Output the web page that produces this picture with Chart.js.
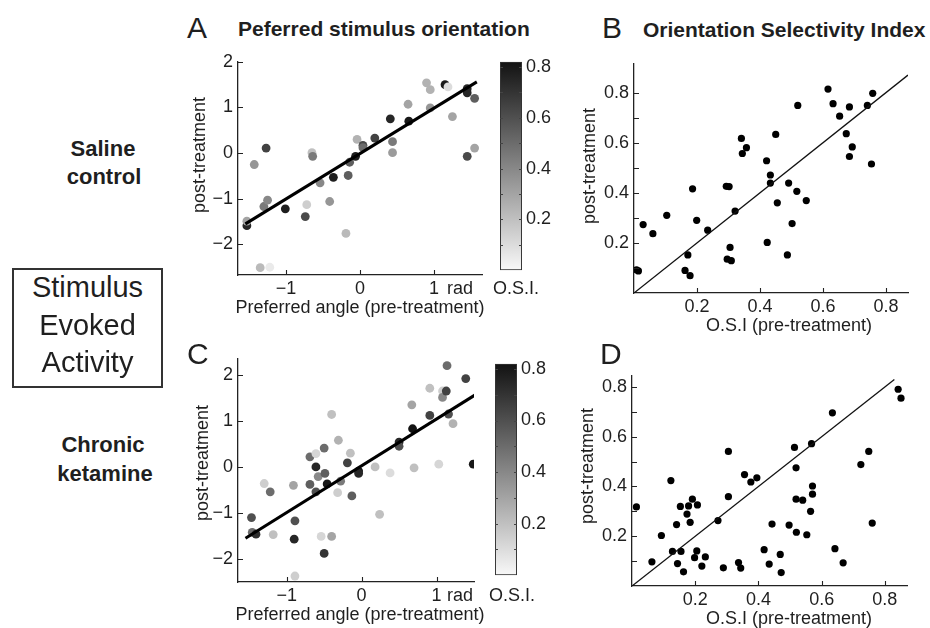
<!DOCTYPE html>
<html><head><meta charset="utf-8">
<script src="https://cdn.jsdelivr.net/npm/chart.js@4"></script>
<style>
body{margin:0;background:#fff;}
#fig{position:relative;width:930px;height:628px;overflow:hidden;font-family:"Liberation Sans",Arial,sans-serif;color:#1f1f1f;background:#fff;}
.t{position:absolute;white-space:nowrap;line-height:1;}
canvas{position:absolute;}
#box{position:absolute;left:12px;top:268px;width:151px;height:120px;border:2px solid #333;box-sizing:border-box;}
</style></head><body><div id="fig"><div id="box"></div></div>
<script>
// ---------- data ----------
// Panel A: saline, preferred angle (rad) pre vs post, colour = OSI
const aPre  = [-1.53,-1.53,-1.43,-1.27,-1.30,-1.25,-1.35,-1.22,-1.01,-0.74,-0.72,-0.65,-0.64,-0.54,-0.41,-0.36,-0.19,-0.16,-0.14,-0.06,-0.04,0.04,0.04,0.20,0.41,0.44,0.44,0.65,0.66,0.90,0.95,0.95,1.15,1.19,1.25,1.45,1.45,1.55,1.45,1.55];
const aPost = [-1.59,-1.49,-0.25,0.11,-1.17,-1.03,-2.51,-2.50,-1.22,-1.39,-1.13,0.01,-0.07,-0.65,-1.06,-0.53,-1.76,-0.49,-0.20,-0.07,0.30,0.17,0.12,0.33,0.75,0.25,0.01,1.07,0.70,1.54,1.39,0.99,1.50,1.45,0.80,1.41,1.32,1.20,-0.07,0.11];
const aOSI  = [0.75,0.30,0.35,0.65,0.45,0.40,0.22,0.05,0.78,0.62,0.15,0.20,0.45,0.40,0.35,0.78,0.22,0.55,0.55,0.78,0.25,0.62,0.50,0.65,0.75,0.45,0.33,0.30,0.80,0.25,0.25,0.35,0.80,0.10,0.30,0.75,0.75,0.55,0.62,0.30];
const aFitX = [-1.55, 1.58];
const aFitY = [-1.55, 1.56];
// Panel C: chronic ketamine
const cPre  = [-1.47,-1.46,-1.41,-1.30,-1.22,-1.18,-0.91,-0.89,-0.90,-0.89,-0.69,-0.69,-0.61,-0.61,-0.61,-0.58,-0.54,-0.50,-0.49,-0.50,-0.46,-0.40,-0.40,-0.32,-0.31,-0.28,-0.19,-0.15,-0.13,-0.04,-0.04,0.18,0.24,0.38,0.50,0.50,0.67,0.68,0.70,0.91,0.91,1.03,1.08,1.08,1.13,1.16,1.22,1.39,1.49,1.14];
const cPost = [-1.10,-1.42,-1.46,-0.36,-0.54,-1.47,-0.40,-1.17,-1.57,-2.37,0.22,-0.38,0.29,0.00,-0.54,-0.21,-1.51,0.41,-0.14,-1.88,-0.37,1.14,-1.51,-0.56,0.58,-0.31,0.09,0.30,-0.63,-0.09,-0.14,0.00,-1.03,-0.13,0.54,0.45,1.35,0.83,-0.02,1.71,1.12,0.06,1.65,1.51,1.65,1.15,0.94,1.92,0.06,2.20];
const cOSI  = [0.60,0.50,0.72,0.15,0.50,0.20,0.30,0.60,0.75,0.15,0.50,0.55,0.12,0.75,0.60,0.40,0.12,0.50,0.55,0.70,0.80,0.20,0.30,0.15,0.25,0.45,0.65,0.20,0.55,0.80,0.75,0.20,0.20,0.10,0.75,0.60,0.30,0.85,0.20,0.20,0.65,0.12,0.15,0.40,0.65,0.60,0.25,0.65,0.80,0.50];
const cFitX = [-1.55, 1.53];
const cFitY = [-1.55, 1.58];
// Panel B: saline OSI pre vs post
const bPre  = [0.008,0.014,0.029,0.060,0.104,0.162,0.171,0.178,0.186,0.199,0.234,0.293,0.302,0.296,0.309,0.305,0.321,0.341,0.344,0.357,0.421,0.423,0.433,0.433,0.450,0.455,0.487,0.491,0.502,0.517,0.520,0.547,0.616,0.632,0.653,0.674,0.684,0.684,0.693,0.741,0.758,0.754];
const bPost = [0.092,0.088,0.273,0.237,0.310,0.090,0.152,0.069,0.416,0.290,0.251,0.426,0.425,0.135,0.129,0.182,0.327,0.617,0.557,0.580,0.528,0.202,0.471,0.439,0.633,0.360,0.152,0.439,0.277,0.406,0.749,0.369,0.814,0.756,0.706,0.636,0.743,0.545,0.583,0.749,0.797,0.515];
const bDiag = [0, 0.87];
// Panel D: ketamine OSI pre vs post
const dPre  = [0.014,0.063,0.093,0.123,0.128,0.141,0.144,0.153,0.155,0.163,0.174,0.179,0.184,0.191,0.198,0.205,0.207,0.221,0.232,0.272,0.289,0.305,0.305,0.337,0.344,0.356,0.376,0.395,0.418,0.434,0.443,0.469,0.472,0.497,0.514,0.519,0.519,0.520,0.540,0.553,0.565,0.568,0.571,0.571,0.634,0.642,0.668,0.724,0.749,0.760,0.842,0.851];
const dPost = [0.318,0.097,0.203,0.424,0.139,0.247,0.090,0.320,0.139,0.057,0.289,0.322,0.256,0.349,0.114,0.141,0.326,0.080,0.117,0.263,0.073,0.541,0.359,0.094,0.072,0.448,0.418,0.435,0.146,0.088,0.249,0.127,0.054,0.245,0.557,0.475,0.349,0.216,0.345,0.206,0.300,0.572,0.402,0.369,0.696,0.150,0.093,0.488,0.541,0.253,0.791,0.755];
const dDiag = [0, 0.83];
// ticks
const angTicks = [-1, 0, 1];
const angTickLabels = ['\u22121', '0', '1'];
const angYTicks = [-2, -1, 0, 1, 2];
const angYTickLabels = ['\u22122', '\u22121', '0', '1', '2'];
const osiXTicks = [0.2, 0.4, 0.6, 0.8];
const osiXTickLabels = ['0.2', '0.4', '0.6', '0.8'];
const osiYTicks = [0.1, 0.2, 0.3, 0.4, 0.5, 0.6, 0.7, 0.8];
const osiYTickLabels = ['', '0.2', '', '0.4', '', '0.6', '', '0.8'];
const cbTicks = [0.2, 0.4, 0.6, 0.8];
const cbTickLabels = ['0.2', '0.4', '0.6', '0.8'];
const cbMinor = [0.1, 0.2, 0.3, 0.4, 0.5, 0.6, 0.7, 0.8];
const OSI_MAX = 0.82;

// ---------- helpers ----------
const fig = document.getElementById('fig');
const FONT = "'Liberation Sans', Arial, sans-serif";
const TXT = '#1f1f1f';
function gray(v){ const f = Math.max(0, Math.min(1, v / OSI_MAX)); const g = Math.round(248 - 230 * f); return 'rgb(' + g + ',' + g + ',' + g + ')'; }
function txt(s, x, base, size, o){ o = o || {}; const d = document.createElement('div'); d.className = 't'; d.textContent = s;
  d.style.fontSize = size + 'px'; if (o.bold) d.style.fontWeight = 'bold';
  d.style.left = x + 'px'; d.style.top = (base - 0.8465 * size) + 'px';
  if (o.center) d.style.transform = 'translateX(-50%)'; fig.appendChild(d); }
function vtxt(s, cx, cy, size){ const d = document.createElement('div'); d.className = 't'; d.textContent = s;
  d.style.fontSize = size + 'px'; d.style.left = cx + 'px'; d.style.top = cy + 'px';
  d.style.transform = 'translate(-50%,-50%) rotate(-90deg)'; fig.appendChild(d); }
function place(l, t, w, h){ const c = document.createElement('canvas'); c.width = w; c.height = h;
  c.style.left = l + 'px'; c.style.top = t + 'px'; c.style.width = w + 'px'; c.style.height = h + 'px'; fig.appendChild(c); return c; }
function pts(xs, ys){ return xs.map((x, i) => ({x: x, y: ys[i]})); }

const inTicks = { id: 'inTicks', afterDraw(chart, args, opts) {
  const ctx = chart.ctx, a = chart.chartArea, L = opts.len || 4;
  ctx.save(); ctx.strokeStyle = opts.color || '#222'; ctx.lineWidth = 1.1;
  ctx.beginPath();
  if (opts.x) { const s = chart.scales.x; opts.x.forEach(v => { const p = Math.round(s.getPixelForValue(v)) + 0.5; ctx.moveTo(p, a.bottom); ctx.lineTo(p, a.bottom - L); }); }
  if (opts.y) { const s = chart.scales.y; opts.y.forEach(v => { const p = Math.round(s.getPixelForValue(v)) + 0.5;
      ctx.moveTo(a.left, p); ctx.lineTo(a.left + L, p);
      if (opts.both) { ctx.moveTo(a.right, p); ctx.lineTo(a.right - L, p); } }); }
  ctx.stroke(); ctx.restore(); } };

function axisOpts(min, max, ticks, labels, pad, fitFn){
  return { type: 'linear', min: min, max: max,
    grid: { drawOnChartArea: false, drawTicks: false },
    border: { display: true, color: '#222', width: 1.3 },
    ticks: { font: { family: FONT, size: 18 }, color: TXT, padding: pad, maxRotation: 0, autoSkip: false,
      callback: (v, i) => labels[i] },
    afterBuildTicks: s => { s.ticks = ticks.map(v => ({ value: v })); },
    afterFit: fitFn };
}

function panel(area, xr, yr, xt, xl, yt, yl, datasets, yMinor){
  const YW = 60, XH = 40, PT = 14, PR = 16;
  const c = place(area.l - YW, area.t - PT, area.r - area.l + YW + PR, area.b - area.t + PT + XH);
  return new Chart(c, { type: 'scatter', data: { datasets: datasets },
    options: { responsive: false, animation: false, devicePixelRatio: 1,
      layout: { padding: { top: PT, right: PR, left: 0, bottom: 0 } },
      plugins: { legend: { display: false }, tooltip: { enabled: false }, inTicks: { x: xt, y: yMinor || yt, len: 5 } },
      scales: {
        x: axisOpts(xr[0], xr[1], xt, xl, 3, s => { s.height = XH; }),
        y: axisOpts(yr[0], yr[1], yt, yl, 5, s => { s.width = YW; })
      } }, plugins: [inTicks] });
}

function colorbar(area, max){
  const RW = 44, PT = 14, PB = 10;
  const c = place(area.l, area.t - PT, area.r - area.l + RW, area.b - area.t + PT + PB);
  return new Chart(c, { type: 'bar', data: { labels: ['O.S.I.'], datasets: [{ data: [max],
      backgroundColor: ctx => { const ch = ctx.chart, a = ch.chartArea; if (!a) return '#888';
        const g = ch.ctx.createLinearGradient(0, a.bottom, 0, a.top); g.addColorStop(0, gray(0)); g.addColorStop(1, gray(max)); return g; },
      borderColor: '#333', borderWidth: 1.3, borderSkipped: false, barPercentage: 1, categoryPercentage: 1 }] },
    options: { responsive: false, animation: false, devicePixelRatio: 1,
      layout: { padding: { top: PT, bottom: PB, left: 0, right: 0 } },
      plugins: { legend: { display: false }, tooltip: { enabled: false }, inTicks: { y: cbMinor, both: true, len: 3, color: '#444' } },
      scales: { x: { display: false },
        y: { type: 'linear', position: 'right', min: 0, max: max,
          grid: { drawOnChartArea: false, drawTicks: false }, border: { display: false },
          ticks: { font: { family: FONT, size: 18 }, color: TXT, padding: 4, autoSkip: false, callback: (v, i) => cbTickLabels[i] },
          afterBuildTicks: s => { s.ticks = cbTicks.map(v => ({ value: v })); },
          afterFit: s => { s.width = RW; } } } }, plugins: [inTicks] });
}

function angleSets(xs, ys, osi, fx, fy){
  return [
    { type: 'scatter', data: pts(fx, fy), showLine: true, borderColor: '#000', borderWidth: 3, pointRadius: 0 },
    { data: pts(xs, ys), pointRadius: 4.4, pointBorderWidth: 0, pointBackgroundColor: osi.map(gray), showLine: false }
  ];
}
function osiSets(xs, ys, diag){
  return [
    { data: pts(diag, diag), showLine: true, borderColor: '#111', borderWidth: 1.3, pointRadius: 0 },
    { data: pts(xs, ys), pointRadius: 3.6, pointBorderWidth: 0, pointBackgroundColor: '#000', showLine: false }
  ];
}

// ---------- charts ----------
panel({l: 238, t: 60, r: 482, b: 275}, [-1.65, 1.65], [-2.67, 2], angTicks, angTickLabels, angYTicks, angYTickLabels,
  angleSets(aPre, aPost, aOSI, aFitX, aFitY));
panel({l: 238, t: 357, r: 474, b: 582}, [-1.65, 1.5], [-2.5, 2.35], angTicks, angTickLabels, angYTicks, angYTickLabels,
  angleSets(cPre, cPost, cOSI, cFitX, cFitY));
panel({l: 634, t: 62, r: 908, b: 293}, [0, 0.87], [0, 0.915], osiXTicks, osiXTickLabels, osiYTicks, osiYTickLabels,
  osiSets(bPre, bPost, bDiag));
panel({l: 632, t: 374, r: 907, b: 586}, [0, 0.87], [0, 0.845], osiXTicks, osiXTickLabels, osiYTicks, osiYTickLabels,
  osiSets(dPre, dPost, dDiag));
colorbar({l: 500, t: 61, r: 522, b: 275}, OSI_MAX);
colorbar({l: 495, t: 363, r: 517, b: 580}, OSI_MAX);

// ---------- text ----------
txt('A', 187, 38, 30); txt('Peferred stimulus orientation', 238, 36, 21, {bold: true});
txt('B', 602, 38, 30); txt('Orientation Selectivity Index', 643, 37, 21, {bold: true});
txt('C', 187, 364, 30); txt('D', 600, 364, 30);
txt('Saline', 103, 157, 22, {bold: true, center: true}); txt('control', 104, 185, 22, {bold: true, center: true});
txt('Chronic', 103, 453, 22, {bold: true, center: true}); txt('ketamine', 105, 482, 22, {bold: true, center: true});
txt('Stimulus', 87.5, 298, 29, {center: true}); txt('Evoked', 87.5, 336, 29, {center: true}); txt('Activity', 87.5, 373, 29, {center: true});
vtxt('post-treatment', 199, 155, 18); vtxt('post-treatment', 202, 463, 18);
vtxt('post-treatment', 589, 166, 18); vtxt('post-treatment', 587, 466, 18);
txt('Preferred angle (pre-treatment)', 360, 313, 18, {center: true});
txt('Preferred angle (pre-treatment)', 360, 620, 18, {center: true});
txt('O.S.I (pre-treatment)', 789, 331, 18, {center: true});
txt('O.S.I (pre-treatment)', 789, 624, 18, {center: true});
txt('rad', 447, 294, 18); txt('rad', 447, 601, 18);
txt('O.S.I.', 516, 294, 18, {center: true}); txt('O.S.I.', 512, 601, 18, {center: true});
</script></body></html>
